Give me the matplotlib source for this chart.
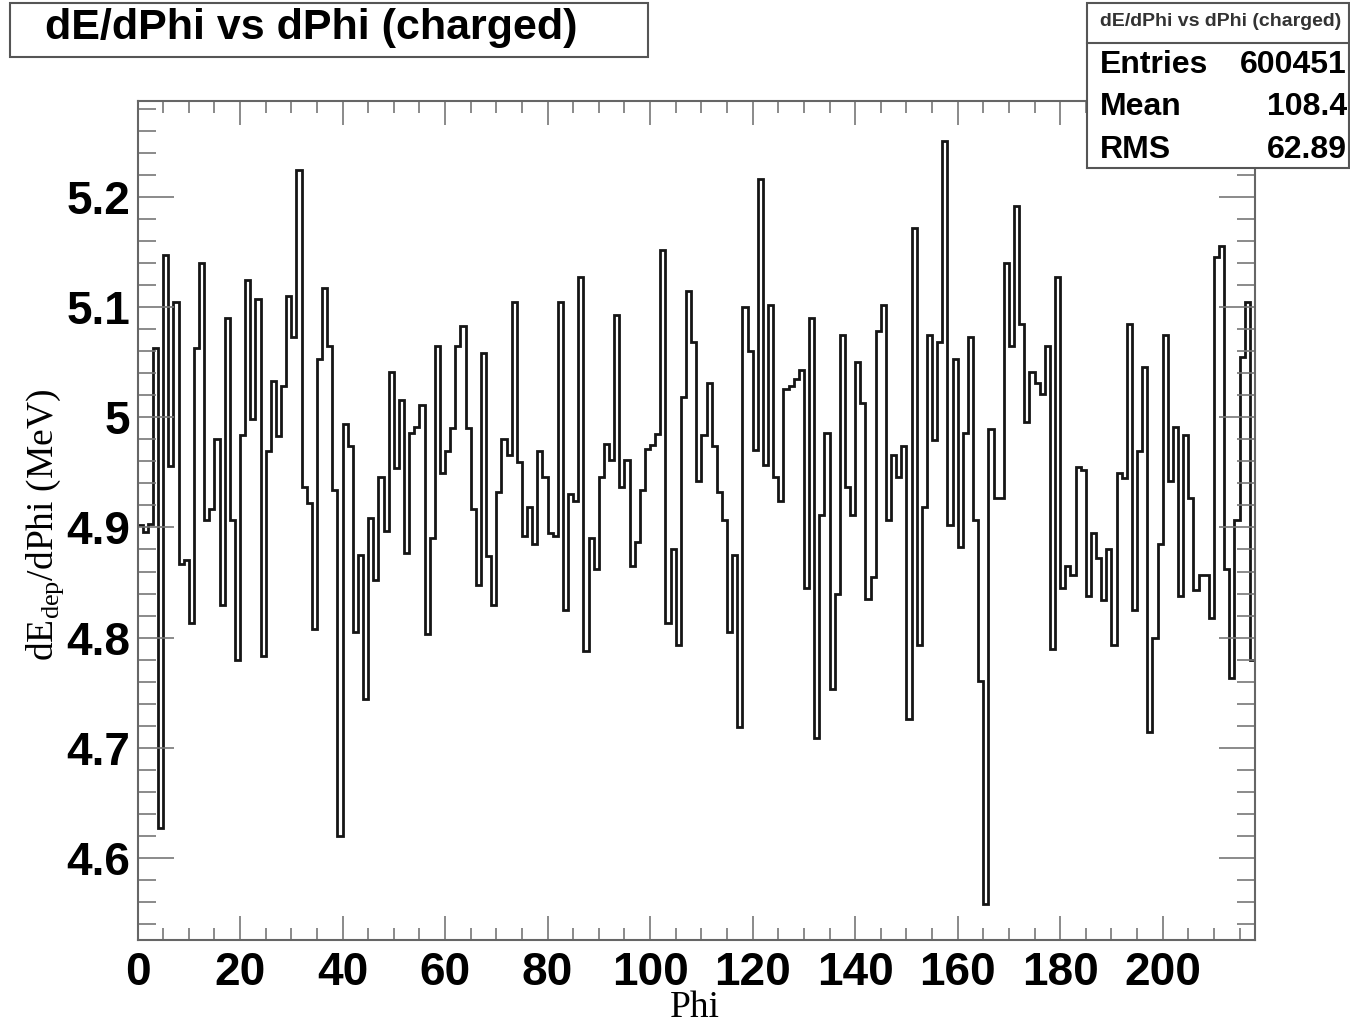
import numpy as np
import matplotlib
matplotlib.use('Agg')
import matplotlib.pyplot as plt
from matplotlib.patches import Rectangle
from matplotlib.lines import Line2D
from matplotlib.ticker import MultipleLocator, FuncFormatter

# bin edges in Phi (one unit per bin, 0..218)
phi_edges = np.arange(0, 219)

# dE_dep/dPhi per bin (MeV)
dedphi = [
    4.902, 4.896, 4.903, 5.063, 4.627, 5.147, 4.956, 5.105, 4.867, 4.870,
    4.813, 5.063, 5.140, 4.907, 4.917, 4.980, 4.830, 5.090, 4.907, 4.780,
    4.984, 5.125, 4.998, 5.107, 4.783, 4.969, 5.033, 4.983, 5.028, 5.110,
    5.073, 5.224, 4.937, 4.922, 4.808, 5.053, 5.117, 5.065, 4.934, 4.620,
    4.994, 4.974, 4.805, 4.875, 4.744, 4.909, 4.852, 4.946, 4.897, 5.041,
    4.954, 5.016, 4.877, 4.986, 4.991, 5.011, 4.803, 4.890, 5.065, 4.949,
    4.969, 4.990, 5.065, 5.083, 4.990, 4.917, 4.848, 5.058, 4.874, 4.830,
    4.932, 4.980, 4.966, 5.105, 4.959, 4.892, 4.919, 4.885, 4.969, 4.946,
    4.895, 4.892, 5.105, 4.825, 4.930, 4.924, 5.127, 4.788, 4.890, 4.862,
    4.946, 4.976, 4.961, 5.093, 4.937, 4.961, 4.865, 4.887, 4.934, 4.971,
    4.975, 4.985, 5.152, 4.813, 4.880, 4.793, 5.018, 5.115, 5.068, 4.942,
    4.984, 5.031, 4.974, 4.932, 4.907, 4.805, 4.875, 4.719, 5.100, 5.060,
    4.970, 5.216, 4.957, 5.102, 4.946, 4.924, 5.026, 5.028, 5.035, 5.043,
    4.845, 5.090, 4.709, 4.911, 4.986, 4.753, 4.840, 5.075, 4.937, 4.911,
    5.050, 5.013, 4.835, 4.855, 5.078, 5.102, 4.907, 4.966, 4.946, 4.974,
    4.726, 5.172, 4.793, 4.919, 5.075, 4.979, 5.068, 5.251, 4.902, 5.053,
    4.882, 4.986, 5.073, 4.907, 4.761, 4.558, 4.989, 4.927, 4.927, 5.140,
    5.065, 5.192, 5.085, 4.996, 5.041, 5.031, 5.021, 5.065, 4.790, 5.127,
    4.845, 4.865, 4.857, 4.955, 4.952, 4.838, 4.895, 4.872, 4.834, 4.880,
    4.793, 4.949, 4.945, 5.085, 4.825, 4.969, 5.046, 4.714, 4.800, 4.885,
    5.075, 4.942, 4.991, 4.838, 4.984, 4.927, 4.843, 4.857, 4.857, 4.818,
    5.145, 5.155, 4.862, 4.763, 4.907, 5.055, 5.105, 4.780,
]

title = 'dE/dPhi vs dPhi (charged)'
stat_names = ['Entries', 'Mean', 'RMS']
stat_values = ['600451', '108.4', '62.89']

plt.rcParams['font.family'] = ['Liberation Sans', 'DejaVu Sans']
plt.rcParams['font.weight'] = 'bold'
plt.rcParams['mathtext.fontset'] = 'custom'
plt.rcParams['mathtext.rm'] = 'Liberation Serif:normal'

W, H = 1350, 1027
fig = plt.figure(figsize=(W / 100, H / 100), dpi=100)
ax = fig.add_axes([137.5 / W, (H - 940) / H, (1255 - 137.5) / W, (940 - 101) / H])

# histogram outline
ax.stairs(dedphi, phi_edges, baseline=None, color='#151515', lw=2.0)

ax.set_xlim(0, 218)
ax.set_ylim(4.5256, 5.287)

ax.xaxis.set_major_locator(MultipleLocator(20))
ax.xaxis.set_minor_locator(MultipleLocator(5))
ax.yaxis.set_major_locator(MultipleLocator(0.1))
ax.yaxis.set_minor_locator(MultipleLocator(0.02))
ax.yaxis.set_major_formatter(FuncFormatter(lambda v, p: f'{v:.1f}'.rstrip('0').rstrip('.')))

ax.tick_params(which='both', direction='in', top=True, right=True, color='#777777', width=1.2)
ax.tick_params(axis='y', which='major', length=26, pad=5, labelsize=33)
ax.tick_params(axis='y', which='minor', length=13)
ax.tick_params(axis='x', which='major', length=17, pad=8, labelsize=33)
ax.tick_params(axis='x', which='minor', length=8.5)
for s in ax.spines.values():
    s.set_color('#666666')
    s.set_linewidth(1.5)

# axis titles
fig.text(695 / W, 1 - 1008 / H, 'Phi', family='Liberation Serif', weight='normal',
         fontsize=27, ha='center', va='center')
fig.text(45 / W, 1 - 525 / H, 'dE$_{\\mathrm{dep}}$/dPhi (MeV)', family='Liberation Serif',
         weight='normal', fontsize=27, rotation=90, ha='center', va='center')

# title box
fig.add_artist(Rectangle((10 / W, 1 - 57 / H), 638 / W, 54 / H, transform=fig.transFigure,
                         fill=False, ec='#555555', lw=1.5))
fig.text(45 / W, 1 - 28 / H, title, fontsize=31, ha='left', va='center')

# stats box
fig.add_artist(Rectangle((1087 / W, 1 - 168 / H), (1349 - 1087) / W, 165 / H,
                         transform=fig.transFigure, fc='white', ec='#555555', lw=1.5, zorder=5))
fig.add_artist(Line2D([1087 / W, 1349 / W], [1 - 43 / H, 1 - 43 / H], transform=fig.transFigure,
                      color='#555555', lw=1.5, zorder=6))
fig.text(1221 / W, 1 - 21 / H, title, fontsize=14, color='#333333', ha='center', va='center', zorder=7)
row_y = [65, 107, 150]
for name, val, y in zip(stat_names, stat_values, row_y):
    fig.text(1100 / W, 1 - y / H, name, fontsize=23, ha='left', va='center', zorder=7)
    fig.text(1347 / W, 1 - y / H, val, fontsize=23, ha='right', va='center', zorder=7)

fig.savefig('out.png', dpi=100)
